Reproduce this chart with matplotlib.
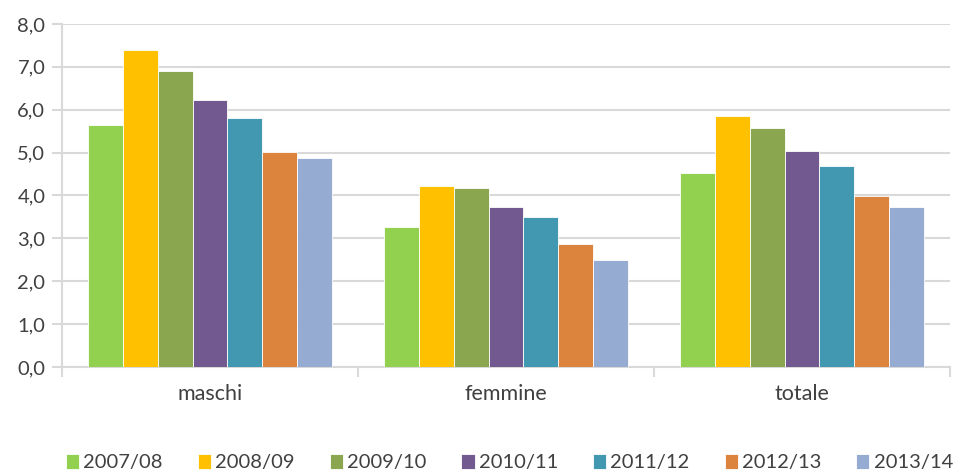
import numpy as np
import matplotlib.pyplot as plt

categories = ["maschi", "femmine", "totale"]
years = ["2007/08", "2008/09", "2009/10", "2010/11", "2011/12", "2012/13", "2013/14"]
values = {
    "2007/08": [5.64, 3.26, 4.52],
    "2008/09": [7.39, 4.22, 5.85],
    "2009/10": [6.90, 4.17, 5.57],
    "2010/11": [6.22, 3.73, 5.03],
    "2011/12": [5.80, 3.50, 4.69],
    "2012/13": [5.01, 2.87, 3.99],
    "2013/14": [4.87, 2.49, 3.73],
}
colors = ["#92d050", "#ffc000", "#8aa64e", "#725990", "#4298b0", "#dc843e", "#95abd2"]

plt.rcParams['font.family'] = ['Lato', 'DejaVu Sans']

fig = plt.figure(figsize=(9.63, 4.73), dpi=100)
ax = fig.add_axes([62 / 963, 1 - 367 / 473, 888 / 963, 343 / 473])

x = np.arange(len(categories))
n = len(years)
group = 0.824
w = group / n
for i, (yr, c) in enumerate(zip(years, colors)):
    ax.bar(x - group / 2 + w * (i + 0.5), values[yr], width=w, color=c,
           edgecolor="white", linewidth=0.6, label=yr, zorder=3)

ax.set_xlim(-0.5, len(categories) - 0.5)
ax.set_ylim(0, 8)
ax.set_yticks(np.arange(0, 9, 1))
ax.set_yticklabels([f"{v:.1f}".replace(".", ",") for v in np.arange(0, 9, 1)])
ax.yaxis.grid(True, color="#d9d9d9", linewidth=1.5, zorder=0)
ax.tick_params(axis="y", length=7, color="#d9d9d9", width=1.5, labelsize=14.5,
               labelcolor="#404040", pad=5)

ax.set_xticks(np.arange(-0.5, len(categories), 1))
ax.set_xticklabels([])
ax.set_xticks(x, minor=True)
ax.set_xticklabels(categories, minor=True)
ax.tick_params(axis="x", which="major", length=7, color="#d9d9d9", width=1.5)
ax.tick_params(axis="x", which="minor", length=0, labelsize=15.5,
               labelcolor="#404040", pad=12)

for s in ["top", "right"]:
    ax.spines[s].set_visible(False)
for s in ["left", "bottom"]:
    ax.spines[s].set_color("#d9d9d9")
    ax.spines[s].set_linewidth(1.5)

leg = fig.legend(loc="lower center", bbox_to_anchor=(0.529, -0.035), ncol=n,
                 frameon=False, fontsize=14.5, handlelength=0.65, handleheight=0.75,
                 handletextpad=0.2, columnspacing=1.75, labelcolor="#404040")

fig.savefig("out.png", dpi=100)
